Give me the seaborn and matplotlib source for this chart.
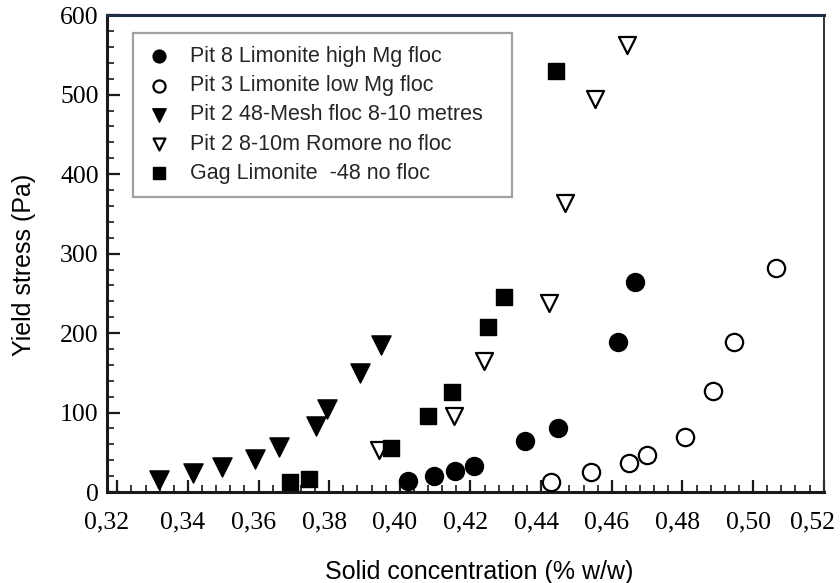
import matplotlib
matplotlib.use("Agg")
import matplotlib.pyplot as plt
import matplotlib.transforms as mtransforms
import seaborn as sns
import pandas as pd
from matplotlib.ticker import MultipleLocator, FixedLocator, FuncFormatter

# ---- data ----
pit8_x = [0.4023, 0.4097, 0.4157, 0.4211, 0.4354, 0.4447, 0.4619, 0.4665]
pit8_y = [14, 20.5, 27, 33, 64.5, 81, 189, 264]

pit3_x = [0.4428, 0.4541, 0.4648, 0.4701, 0.4807, 0.4888, 0.4945, 0.5064]
pit3_y = [13, 25.5, 36, 46.5, 69, 127, 189, 282]

pit2mesh_x = [0.3319, 0.3415, 0.3497, 0.3591, 0.3658, 0.3764, 0.3795, 0.3886, 0.3946]
pit2mesh_y = [15, 23.5, 32, 42, 57, 83, 104, 150, 185]

pit2rom_x = [0.3941, 0.4152, 0.4237, 0.4421, 0.4469, 0.4553, 0.4642]
pit2rom_y = [53, 96, 165, 238, 364, 494, 562]

gag_x = [0.3690, 0.3742, 0.3976, 0.4081, 0.4149, 0.4250, 0.4296, 0.4443]
gag_y = [13, 17, 55, 96, 126, 208, 245, 530]

labels = ["Pit 8 Limonite high Mg floc",
          "Pit 3 Limonite low Mg floc",
          "Pit 2 48-Mesh floc 8-10 metres",
          "Pit 2 8-10m Romore no floc",
          "Gag Limonite  -48 no floc"]
x_ticks = [0.32, 0.34, 0.36, 0.38, 0.40, 0.42, 0.44, 0.46, 0.48, 0.50, 0.52]
y_ticks = [0, 100, 200, 300, 400, 500, 600]

sns.set_theme(style="white")
plt.rcParams['font.family'] = ['Liberation Sans', 'DejaVu Sans']

fig = plt.figure(figsize=(8.4, 5.83), dpi=100)
ax = fig.add_axes([0.1274, 0.156, 0.8536, 0.818])

series = [
    (pit8_x, pit8_y, "o", "black", "black", 155, 1.5),
    (pit3_x, pit3_y, "o", "white", "black", 155, 1.6),
    (pit2mesh_x, pit2mesh_y, "v", "black", "black", 190, 1.0),
    (pit2rom_x, pit2rom_y, "v", "white", "black", 150, 1.6),
    (gag_x, gag_y, "s", "black", "black", 130, 1.0),
]
for (xs, ys, m, fc, ec, s, lw), lab in zip(series, labels):
    df = pd.DataFrame({"x": xs, "y": ys})
    sns.scatterplot(data=df, x="x", y="y", ax=ax, marker=m, s=s,
                    color=fc, edgecolor=ec, linewidth=lw, label=lab, zorder=3)

ax.set_xlim(0.3171, 0.5201)
ax.set_ylim(0, 600)
ax.xaxis.set_major_locator(FixedLocator(x_ticks))
ax.xaxis.set_minor_locator(MultipleLocator(0.004))
ax.yaxis.set_major_locator(FixedLocator(y_ticks))
ax.yaxis.set_minor_locator(MultipleLocator(20))
ax.xaxis.set_major_formatter(FuncFormatter(lambda v, p: f"{v:.2f}".replace(".", ",")))
ax.yaxis.set_major_formatter(FuncFormatter(lambda v, p: f"{int(round(v))}"))

ax.tick_params(which="both", direction="in", top=False, right=False,
               bottom=True, left=True, colors="#1a1a1a")
ax.tick_params(which="major", length=9, width=1.6)
ax.tick_params(axis="x", which="major", pad=14)
ax.tick_params(axis="y", which="major", pad=6)
ax.tick_params(which="minor", length=5, width=1.2)
for lab in ax.get_xticklabels() + ax.get_yticklabels():
    lab.set_fontfamily("Liberation Serif")
    lab.set_fontsize(18.5)
    lab.set_color("black")

# small horizontal offsets of the x tick labels, as in the reference
xlabs = ax.get_xticklabels()
for i, lab in enumerate(xlabs):
    dx = -5
    if i == 0:
        dx = -11
    elif i == len(xlabs) - 1:
        dx = -11
    lab.set_transform(lab.get_transform() +
                      mtransforms.ScaledTranslation(dx / 100, 0, fig.dpi_scale_trans))

ax.spines["left"].set_linewidth(2.2)
ax.spines["bottom"].set_linewidth(2.2)
ax.spines["top"].set_linewidth(2.2)
ax.spines["top"].set_color("#1f2f45")
ax.spines["right"].set_linewidth(1.4)
ax.spines["left"].set_color("#1a1a1a")
ax.spines["bottom"].set_color("#1a1a1a")
ax.spines["right"].set_color("#333333")

ax.set_xlabel("Solid concentration (% w/w)", fontsize=18, color="black")
ax.set_ylabel("Yield stress (Pa)", fontsize=18, color="black")
ax.xaxis.set_label_coords(0.519, -0.143)
ax.yaxis.set_label_coords(-0.099, 0.476)

leg = ax.legend(loc="upper left", bbox_to_anchor=(0.0363, 0.9623, 0.5286, 0.0),
                mode="expand", frameon=True,
                fancybox=False, fontsize=15.5, handletextpad=0.85, labelspacing=0.38,
                borderpad=0.6, handlelength=1.2, markerscale=0.7, borderaxespad=0)
leg.get_frame().set_edgecolor("#8a8a8a")
leg.get_frame().set_linewidth(1.6)

fig.savefig("out.png", dpi=100)
